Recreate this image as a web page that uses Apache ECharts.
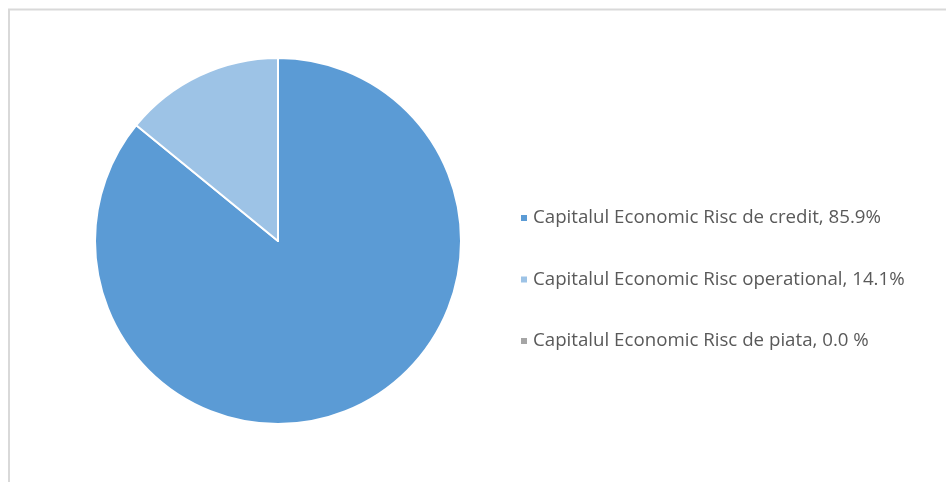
<!DOCTYPE html>
<html><head><meta charset="utf-8">
<script src="https://cdn.jsdelivr.net/npm/echarts@6/dist/echarts.min.js"></script>
<style>html,body{margin:0;padding:0;background:#fff}#c{width:946px;height:482px}</style>
</head><body><div id="c"></div>
<script>
const categories = ['Capitalul Economic Risc de credit', 'Capitalul Economic Risc operational', 'Capitalul Economic Risc de piata'];
const values = [85.9, 14.1, 0.0];
const valueLabels = ['85.9%', '14.1%', '0.0 %'];
const colors = ['#5B9BD5', '#9DC3E6', '#A5A5A5'];

const chart = echarts.init(document.getElementById('c'));
chart.setOption({
  backgroundColor: '#fff',
  animation: false,
  graphic: [{
    type: 'polyline',
    shape: { points: [[9, 482], [9, 9.5], [946, 9.5]] },
    style: { stroke: '#d9d9d9', lineWidth: 2, fill: null },
    silent: true
  }],
  legend: {
    orient: 'vertical',
    left: 514,
    top: 203,
    itemWidth: 8,
    itemHeight: 8,
    itemGap: 41.5,
    icon: 'rect',
    textStyle: { fontFamily: 'Open Sans', fontSize: 18.7, lineHeight: 20, color: '#595959' },
    formatter: function (name) { return name + ', ' + valueLabels[categories.indexOf(name)]; },
    data: categories
  },
  series: [{
    type: 'pie',
    center: [278, 241],
    radius: 183,
    startAngle: 90,
    clockwise: true,
    label: { show: false },
    labelLine: { show: false },
    itemStyle: { borderColor: '#fff', borderWidth: 2 },
    data: categories.map((n, i) => ({ name: n, value: values[i], itemStyle: { color: colors[i] } }))
  }]
});
</script></body></html>
